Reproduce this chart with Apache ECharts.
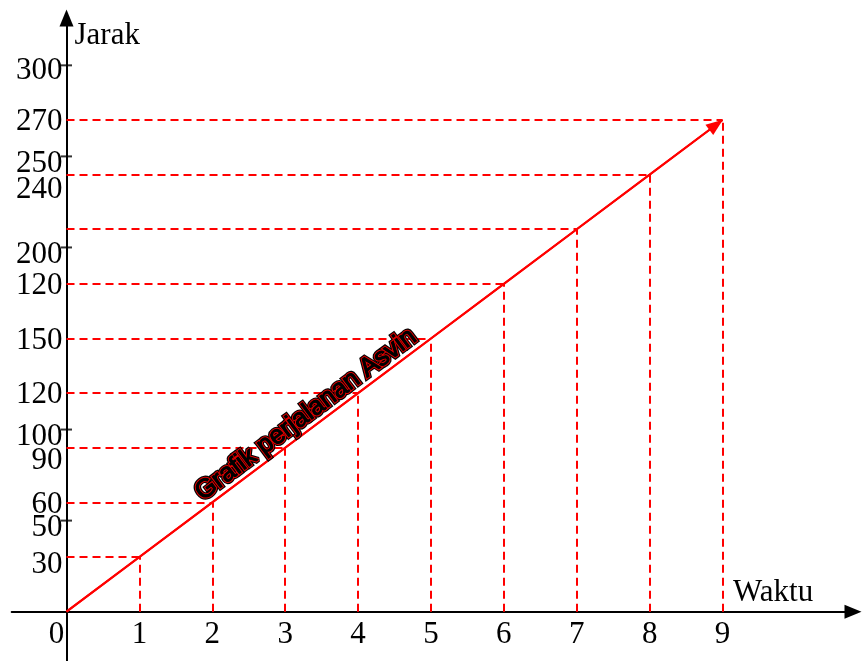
<!DOCTYPE html>
<html>
<head>
<meta charset="utf-8">
<title>Grafik perjalanan Asvin</title>
<script src="https://cdn.jsdelivr.net/npm/echarts@6/dist/echarts.min.js"></script>
<style>
  html, body { margin: 0; padding: 0; background: #fff; }
  #main { width: 862px; height: 661px; }
</style>
</head>
<body>
<div id="main"></div>
<script>
// data
var waktu = [0, 1, 2, 3, 4, 5, 6, 7, 8, 9];
var jarak = [0, 30, 60, 90, 120, 150, 180, 210, 240, 270];
var xLabelValues = [0, 1, 2, 3, 4, 5, 6, 7, 8, 9];
var yLabelValues = [30, 50, 60, 90, 100, 120, 150, 180, 200, 240, 250, 270, 300];
var yLabelTexts = ['30', '50', '60', '90', '100', '120', '150', '120', '200', '240', '250', '270', '300'];
var yTickValues = [50, 100, 200, 250, 300];
var judul = 'Grafik perjalanan Asvin';

var serif = '"Liberation Serif", "Times New Roman", serif';
var merah = '#ff0000';

// vertical shifts of the y labels (px down), as in the picture
var yNudge = { 30: 8, 50: 7, 60: 2, 90: 13, 100: 7, 120: 2, 150: 2, 180: 2, 200: 7, 240: 15, 250: 7, 270: 2, 300: 6 };

var yRich = {};
Object.keys(yNudge).forEach(function (k) {
    var n = yNudge[k];
    yRich['n' + n] = { fontFamily: serif, fontSize: 31, color: '#000', padding: [n * 2, 0, 0, 0] };
});

var chart = echarts.init(document.getElementById('main'));

var guideLines = [];
for (var i = 1; i < waktu.length; i++) {
    guideLines.push([{ coord: [0, jarak[i]] }, { coord: [waktu[i], jarak[i]] }]);
    guideLines.push([{ coord: [waktu[i], 0] }, { coord: [waktu[i], jarak[i]] }]);
}
var last = waktu.length - 1;

var option = {
    animation: false,
    backgroundColor: '#fff',
    grid: {
        left: 11.7,
        right: 9,
        top: 18,
        bottom: 0,
        containLabel: false,
        outerBoundsMode: 'none'
    },
    xAxis: {
        type: 'value',
        min: -0.752,
        max: 10.79,
        offset: -49.35,   // put the axis on y = 0
        name: 'Waktu',
        nameLocation: 'end',
        nameGap: -120,
        nameMoveOverlap: false,
        nameTextStyle: {
            fontFamily: serif,
            fontSize: 31,
            color: '#000',
            align: 'left',
            verticalAlign: 'bottom',
            padding: [0, 0, 3, 0]
        },
        axisLine: {
            onZero: false,
            symbol: ['none', 'triangle'],
            symbolSize: [14, 17],
            lineStyle: { color: '#000', width: 2 }
        },
        axisTick: { show: false },
        splitLine: { show: false },
        axisLabel: {
            customValues: xLabelValues,
            margin: 8,
            fontFamily: serif,
            fontSize: 31,
            color: '#000',
            formatter: function (v) {
                if (v === 0) return '{z|0}';
                return String(v);
            },
            rich: {
                z: { fontFamily: serif, fontSize: 31, color: '#000', padding: [0, 20, 0, 0] }
            }
        }
    },
    yAxis: {
        type: 'value',
        min: -27.1,
        max: 326,
        offset: -54.81,   // put the axis on x = 0
        name: 'Jarak',
        nameLocation: 'end',
        nameGap: -18,
        nameMoveOverlap: false,
        nameTextStyle: {
            fontFamily: serif,
            fontSize: 31,
            color: '#000',
            align: 'left',
            verticalAlign: 'middle',
            padding: [0, 0, 0, 8]
        },
        axisLine: {
            onZero: false,
            symbol: ['none', 'triangle'],
            symbolSize: [14, 17],
            lineStyle: { color: '#000', width: 2 }
        },
        axisTick: { show: false },
        splitLine: { show: false },
        axisLabel: {
            customValues: yLabelValues,
            margin: 4,
            fontFamily: serif,
            fontSize: 31,
            color: '#000',
            formatter: function (v) {
                var idx = yLabelValues.indexOf(v);
                if (idx < 0) return '';
                return '{n' + (yNudge[v] || 0) + '|' + yLabelTexts[idx] + '}';
            },
            rich: yRich
        }
    },
    series: [
        {
            // dashed guides
            type: 'line',
            data: [],
            silent: true,
            markLine: {
                silent: true,
                symbol: ['none', 'none'],
                label: { show: false },
                lineStyle: { type: [8, 5], color: merah, width: 2 },
                data: guideLines
            }
        },
        {
            type: 'line',
            data: waktu.map(function (x, k) { return [x, jarak[k]]; }),
            symbol: 'none',
            silent: true,
            lineStyle: { color: merah, width: 2 },
            markLine: {
                silent: true,
                label: { show: false },
                lineStyle: { type: 'solid', color: merah, width: 2 },
                data: [[
                    { coord: [waktu[0], jarak[0]], symbol: 'none' },
                    { coord: [waktu[last], jarak[last]], symbol: 'triangle', symbolSize: [13, 17], symbolOffset: [0, 8] }
                ]]
            }
        },
        {
            // cross ticks on the y axis
            type: 'scatter',
            silent: true,
            symbol: 'rect',
            symbolSize: [11, 2],
            itemStyle: { color: '#000' },
            data: yTickValues.map(function (v) { return [0, v]; })
        }
    ]
};

chart.setOption(option);

// title text along the line
var p0 = chart.convertToPixel({ gridIndex: 0 }, [waktu[0], jarak[0]]);
var p1 = chart.convertToPixel({ gridIndex: 0 }, [waktu[last], jarak[last]]);
var ang = Math.atan2(p0[1] - p1[1], p1[0] - p0[0]);
var t = 0.378;
var dist = 14;
var cx = p0[0] + (p1[0] - p0[0]) * t - Math.sin(ang) * dist;
var cy = p0[1] + (p1[1] - p0[1]) * t - Math.cos(ang) * dist;
var font = '26px "Liberation Sans", Arial, sans-serif';

function judulText(z, stroke, lw) {
    return {
        type: 'text', x: cx, y: cy, rotation: ang, silent: true, z: z,
        style: { text: judul, font: font, fill: '#000', stroke: stroke, lineWidth: lw, align: 'center', verticalAlign: 'middle' }
    };
}

// black outline, thin red ring, black core
chart.setOption({
    graphic: [
        judulText(100, '#000', 5.2),
        judulText(101, '#e00000', 3),
        judulText(102, '#000', 1)
    ]
});
</script>
</body>
</html>
